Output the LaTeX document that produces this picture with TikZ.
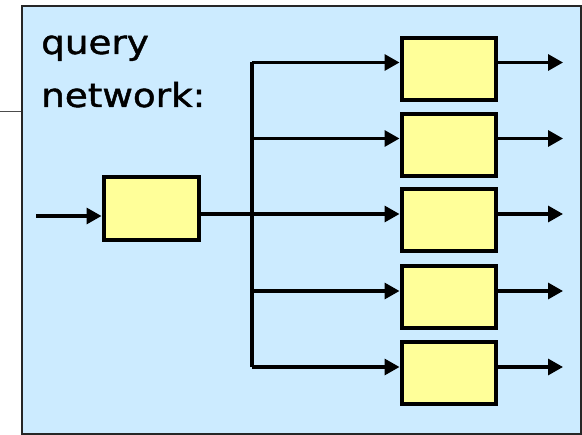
\documentclass[tikz,border=0pt]{standalone}
\usepackage{fontspec}
\setmainfont{DejaVu Sans}[FakeStretch=1.13, FakeBold=1.4]
\usetikzlibrary{arrows.meta}
\definecolor{panel}{HTML}{CCEBFF}
\definecolor{cell}{HTML}{FFFF99}
\tikzset{
  unit/.style={draw=black, fill=cell, line width=4pt, minimum width=94pt, minimum height=62pt, inner sep=0pt},
  wire/.style={line width=3.2pt, line cap=butt},
  flow/.style={wire, -{Triangle[length=15pt,width=16pt]}},
  caption/.style={anchor=base west, inner sep=0pt, font=\fontsize{33}{40}\selectfont},
}
\begin{document}
\begin{tikzpicture}[x=1pt, y=-1pt]
  \useasboundingbox (0,0) rectangle (582,435);
  % panel
  \node[draw=black!85, fill=panel, line width=2pt, minimum width=559pt, minimum height=428pt, inner sep=0pt, anchor=north west] (panel) at (20.5,5) {};
  \coordinate (lead) at (0,112);
  \draw[black!70, line width=1pt] (lead) -- (panel.west |- lead);
  \node[caption] (title1) at (41,54) {query};
  \node[caption] (title2) at (41,107) {network:};
  % input unit
  \node[unit, minimum width=95pt, minimum height=63pt] (src) at (151,208.5) {};
  \coordinate (in) at (36,216);
  \draw[flow] (in) -- (src.west |- in);
  % output units
  \foreach \i/\y in {1/69, 2/145, 3/220.5, 4/297.5, 5/373.5} {
    \node[unit] (u\i) at (448.5,\y) {};
    \coordinate (t\i) at (252,\y-6.5);
    \coordinate (o\i) at (563,\y-6.5);
    \draw[flow] (t\i) -- (u\i.west |- t\i);
    \draw[flow] (u\i.east |- t\i) -- (o\i);
  }
  % fan-out bus
  \draw[wire] (t1) -- (t5);
  \draw[wire] (src.east |- t3) -- (t3);
\end{tikzpicture}
\end{document}
